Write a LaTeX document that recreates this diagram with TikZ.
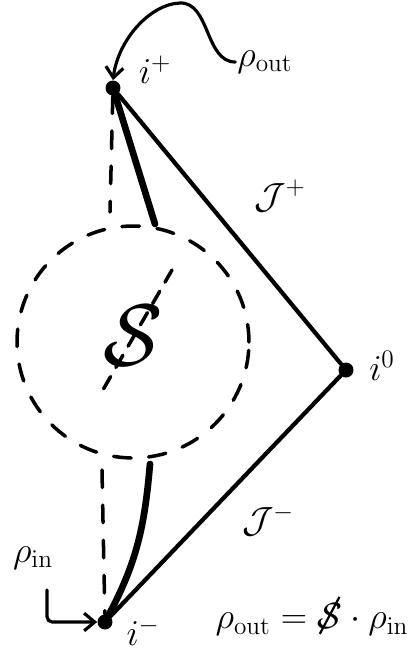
\documentclass[tikz,border=0pt]{standalone}
\usepackage{amsmath,amssymb}
\usepackage{graphicx}
\usepackage{tikz}
\usetikzlibrary{arrows.meta,positioning,calc}
\newcommand{\Sslash}{\mathord{\ooalign{$\mathcal{S}$\cr\hidewidth\raisebox{-0.35ex}{\rotatebox{62}{\rule{1.15em}{0.06em}}}\hidewidth\cr}}}

\begin{document}
\begin{tikzpicture}[
    x=0.02cm, y=-0.02cm,
    line cap=round,
    dot/.style={circle, fill=black, minimum size=0.3cm, inner sep=0pt},
    lbl/.style={font=\huge, inner sep=1pt},
    edge/.style={line width=2.4pt},
    wedge/.style={line width=3.8pt},
    guide/.style={line width=2pt, dash pattern=on 10pt off 10pt},
    arrow/.style={line width=1.8pt, -{Straight Barb[length=6pt,width=10pt]}},
]
\useasboundingbox (0,0) rectangle (414,657);

% ===== POINTS AT INFINITY =====
\node[dot] (iplus)  at (113,88)  {};
\node[dot] (izero)  at (346,370) {};
\node[dot] (iminus) at (105,622) {};

\node[lbl] (iplus_lbl)  at (155,70)  {$i^{+}$};
\node[lbl] (izero_lbl)  at (382,366) {$i^{0}$};
\node[lbl] (iminus_lbl) at (143,632) {$i^{-}$};

% ===== NULL INFINITY =====
\draw[edge] (iplus) -- (izero);
\draw[edge] (izero) -- (iminus);
\node[lbl] (scriplus)  at (280,196) {$\mathcal{J}^{+}$};
\node[lbl] (scriminus) at (268,520) {$\mathcal{J}^{-}$};

% ===== SCATTERING REGION =====
\node[draw, circle, guide, minimum size=4.64cm] (blob) at (133,342) {};
\node[font=\huge] (smat) at (133,336) {\scalebox{2.4}{$\mathcal{S}$}};
\coordinate (slash_top) at (172,270);
\coordinate (slash_bot) at (100,395);
\draw[guide, dash pattern=on 8pt off 6pt] (slash_top) -- (slash_bot);

% Lines into and out of the blob
\coordinate (blob_top) at (110,212);
\coordinate (blob_bot) at (102,470);
\coordinate (out_foot) at (155,224);
\coordinate (in_foot)  at (150,464);
\draw[guide] (iplus) -- (blob_top);
\draw[guide] (blob_bot) -- (iminus);
\draw[wedge] (iplus) -- (out_foot);
\draw[wedge] (in_foot) to[out=-95, in=62] (iminus);

% ===== STATES =====
\node[lbl] (rhoout) at (265,62) {$\rho_{\mathrm{out}}$};
\node[lbl] (rhoin)  at (33,558) {$\rho_{\mathrm{in}}$};
\coordinate (rhoin_tail) at (47,590);

\draw[arrow] (rhoout.west) .. controls (205,62) and (210,2) .. (180,3)
    .. controls (150,4) and (118,40) .. (iplus.north);
\draw[arrow, rounded corners=3pt] (rhoin_tail) |- (iminus.west);

\node[lbl] (smatrix_eq) at (312,620) {$\rho_{\mathrm{out}}=\Sslash\cdot\rho_{\mathrm{in}}$};

\end{tikzpicture}
\end{document}
